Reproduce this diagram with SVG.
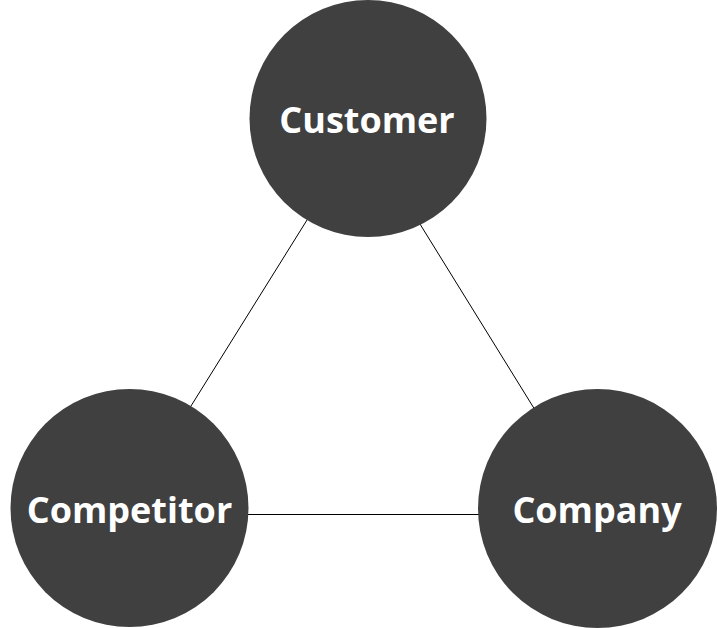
<svg xmlns="http://www.w3.org/2000/svg" width="717" height="628" viewBox="0 0 717 628">
<style>
.node{fill:#404040;}
.lbl{fill:#ffffff;font-family:"Open Sans","Noto Sans",sans-serif;font-weight:bold;font-size:36px;text-anchor:middle;}
.edge{stroke:#000000;stroke-width:1;fill:none;}
</style>
<rect width="717" height="628" fill="#ffffff"/>
<g id="connectors">
<line class="edge" x1="312" y1="212" x2="186" y2="414"/>
<line class="edge" x1="415" y1="216" x2="540" y2="418"/>
<line class="edge" x1="240" y1="514.5" x2="488" y2="514.5"/>
</g>
<g id="customer">
<circle class="node" cx="368" cy="118.5" r="118.5"/>
<text class="lbl" x="367" y="133">Customer</text>
</g>
<g id="competitor">
<circle class="node" cx="129.5" cy="508" r="119"/>
<text class="lbl" x="129.5" y="523">Competitor</text>
</g>
<g id="company">
<circle class="node" cx="597.5" cy="508.5" r="119.5"/>
<text class="lbl" x="597" y="523">Company</text>
</g>
</svg>
